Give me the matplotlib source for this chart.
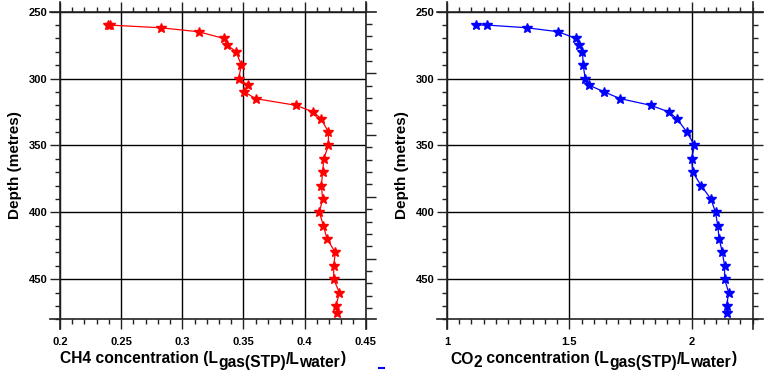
import matplotlib
matplotlib.use("Agg")
import matplotlib.pyplot as plt
import numpy as np
from matplotlib.lines import Line2D
from matplotlib.ticker import MultipleLocator

plt.rcParams["font.family"] = ["Liberation Sans", "DejaVu Sans"]
plt.rcParams["font.weight"] = "bold"

# depth profile (metres) shared by both gases
depth = [260, 260, 262, 265, 270, 275, 280, 290, 300, 305, 310, 315, 320, 325, 330,
         340, 350, 360, 370, 380, 390, 400, 410, 420, 430, 440, 450, 460, 470, 475]
ch4 = [0.239, 0.2405, 0.2823, 0.3134, 0.3339, 0.3369, 0.344, 0.3483, 0.3461, 0.3535,
       0.3508, 0.360, 0.393, 0.4072, 0.4135, 0.4195, 0.4195, 0.4157, 0.4148, 0.4137,
       0.4148, 0.4121, 0.4154, 0.4184, 0.4252, 0.4238, 0.4238, 0.4285, 0.4257, 0.4263]
co2 = [1.117, 1.164, 1.326, 1.455, 1.527, 1.541, 1.554, 1.557, 1.565, 1.582, 1.643,
       1.708, 1.833, 1.908, 1.940, 1.981, 2.012, 2.0, 2.005, 2.039, 2.079, 2.098,
       2.107, 2.113, 2.126, 2.135, 2.135, 2.152, 2.143, 2.145]

# axis titles as (text, lowered?) pieces: the subscripts are full size, just dropped
ch4_label = [("CH4 concentration (L", False), ("gas(STP)", True), ("/L", False),
             ("water", True), (")", False)]
co2_label = [("CO", False), ("2", True), (" concentration (L", False), ("gas(STP)", True),
             ("/L", False), ("water", True), (")", False)]

W, H = 766, 376
fig = plt.figure(figsize=(W / 100, H / 100), dpi=100)


def frame(ax, w_px, h_px, ext=10):
    ex, ey = ext / w_px, ext / h_px
    kw = dict(transform=ax.transAxes, color="#222222", lw=1.2, clip_on=False, zorder=5)
    ax.add_line(Line2D([-ex, 1 + ex], [0, 0], **kw))
    ax.add_line(Line2D([-ex, 1 + ex], [1, 1], **kw))
    ax.add_line(Line2D([0, 0], [-ey, 1 + ey], **kw))
    ax.add_line(Line2D([1, 1], [-ey, 1 + ey], **kw))
    for s in ax.spines.values():
        s.set_visible(False)


def piece_label(pieces, x_px, base_px, drop=3.2, size=11.25):
    renderer = fig.canvas.get_renderer()
    x = x_px
    for txt, low in pieces:
        y = base_px + (drop if low else 0)
        t = fig.text(x / W, 1 - y / H, txt, fontsize=size, fontweight="bold",
                     ha="left", va="baseline")
        x += t.get_window_extent(renderer).width


def panel(left_px, right_px, x, color, xlim, xminor, xticks, right_ticks):
    top, bottom = 11.7, 319.3
    ax = fig.add_axes([left_px / W, 1 - bottom / H, (right_px - left_px) / W, (bottom - top) / H])
    ax.plot(x, depth, color=color, lw=0.9, marker="*", ms=7.5, mec=color, mfc=color, zorder=4)
    ax.set_xlim(*xlim)
    ax.set_ylim(480, 250)
    ax.set_xticks(xticks)
    ax.set_xticklabels([f"{t:g}" for t in xticks])
    ax.xaxis.set_minor_locator(MultipleLocator(xminor))
    ax.set_yticks([250, 300, 350, 400, 450])
    ax.yaxis.set_minor_locator(MultipleLocator(10))
    ax.grid(which="major", color="black", lw=1.0)
    ax.tick_params(which="major", direction="out", length=7.5, width=1.0, color="#222222",
                   top=True, right=right_ticks, labelsize=8)
    ax.tick_params(which="minor", direction="out", length=3.8, width=1.0, color="#222222",
                   top=True, right=right_ticks)
    ax.tick_params(axis="x", which="major", pad=5.5)
    ax.tick_params(axis="y", which="major", pad=1.5)
    for lab in ax.get_xticklabels() + ax.get_yticklabels():
        lab.set_fontweight("bold")
    ax.set_ylabel("Depth (metres)", fontsize=11, fontweight="bold", labelpad=5)
    frame(ax, right_px - left_px, bottom - top)
    return ax


ax1 = panel(60, 365.7, ch4, "red", (0.2, 0.45), 0.01,
            [0.2, 0.25, 0.3, 0.35, 0.4, 0.45], False)
ax2 = panel(447, 752.7, co2, "blue", (1.0, 2.25), 0.05, [1, 1.5, 2], True)

piece_label(ch4_label, 60, 363.5)
piece_label(co2_label, 450, 363.5)

# secondary depth scale on the right of the CH4 panel (unlabelled ticks)
tw = ax1.twinx()
tw.set_ylim(480, 250)
sec_minor = 259.2 + 9.23 * np.arange(24)
tw.set_yticks(sec_minor[4::5])
tw.set_yticks(sec_minor, minor=True)
tw.set_yticklabels([])
tw.tick_params(which="major", direction="out", length=7.5, width=1.0, color="#222222")
tw.tick_params(which="minor", direction="out", length=4.5, width=1.0, color="#222222")
for s in tw.spines.values():
    s.set_visible(False)

fig.add_artist(Line2D([379 / W, 384 / W], [1 - 368 / H] * 2, color="blue", lw=1.5))

fig.savefig("out.png", dpi=100)
